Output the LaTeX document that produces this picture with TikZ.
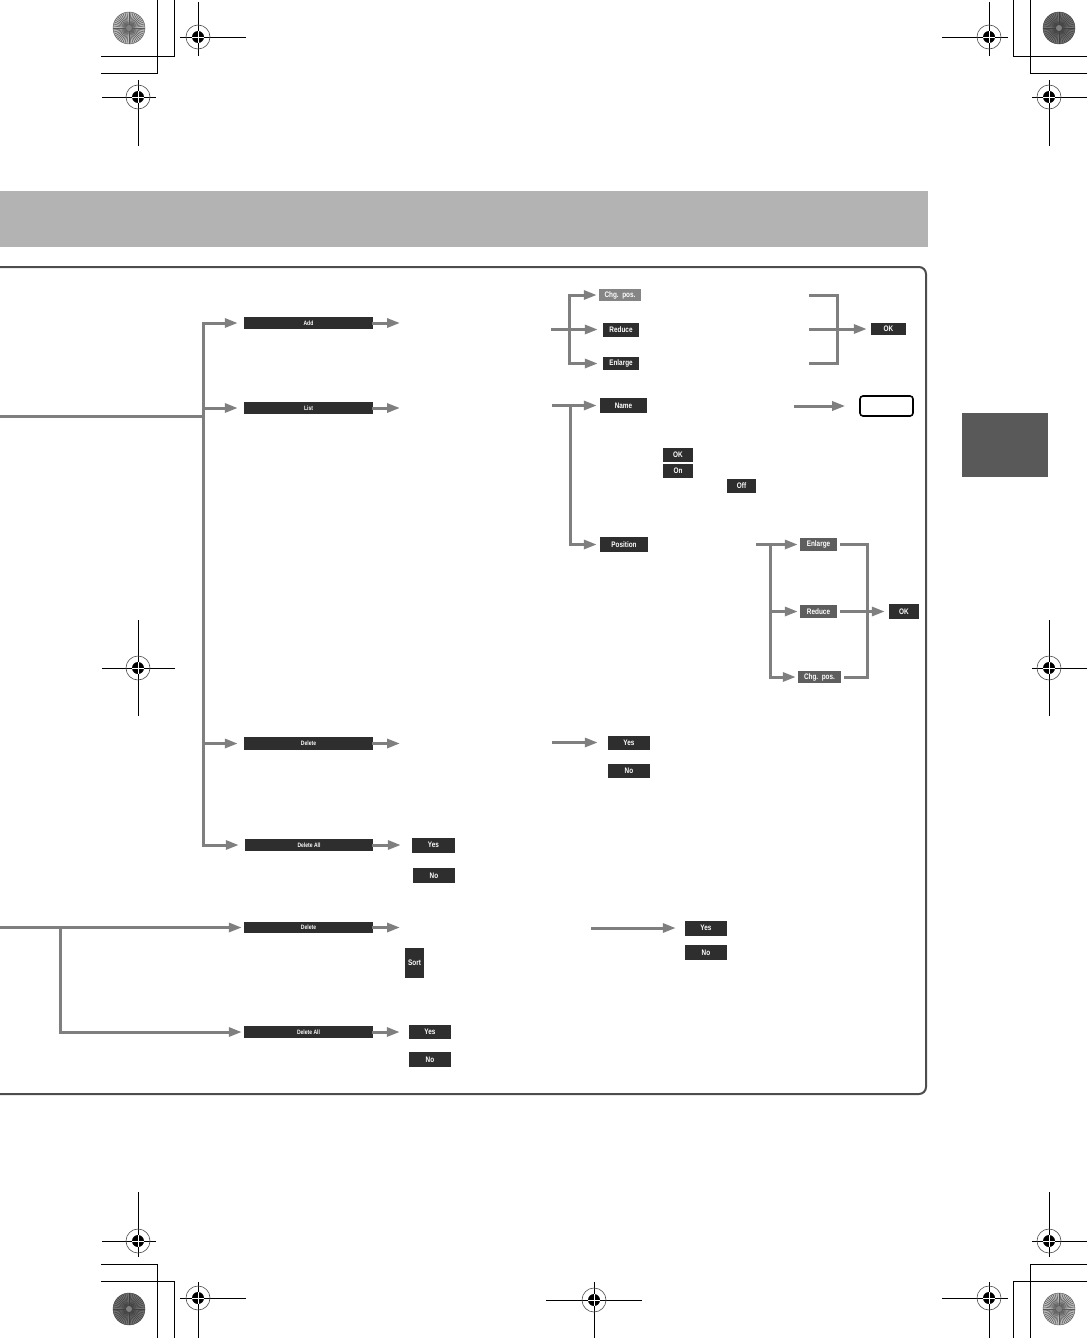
\documentclass[tikz,border=0pt]{standalone}
\usepackage{fontspec}
\newfontfamily\btnfont[FakeStretch=0.8]{Liberation Sans}
\usetikzlibrary{arrows.meta}
\definecolor{linec}{HTML}{7F7F7F}
\definecolor{btnd}{HTML}{2E2E2E}
\definecolor{btnm}{HTML}{5E5E5E}
\definecolor{btnl}{HTML}{858585}
\definecolor{headc}{HTML}{B3B3B3}
\definecolor{tabc}{HTML}{595959}
\definecolor{framec}{HTML}{4D4D4D}
\newcommand\starcirc[4]{%
  \fill[#3] (#1,#2) circle (16pt);
  \foreach \a in {0,7.5,...,352.5} \draw[#4, line width=0.5pt] (#1,#2) -- ++(\a:16pt);
  \draw[#4, line width=0.4pt] (#1,#2) circle (16pt);
  \fill[black!50] (#1,#2) circle (3pt);
}
\begin{document}
\begin{tikzpicture}[x=1pt,y=-1pt,
  ln/.style={draw=linec, line width=3pt, line cap=rect},
  arr/.style={ln, -{Triangle[length=13pt,width=9pt]}},
  btn/.style={fill=btnd, text=white, inner sep=0pt, font=\btnfont\bfseries\fontsize{8}{8}\selectfont},
  barbtn/.style={btn, minimum width=129pt, minimum height=12pt, font=\btnfont\bfseries\fontsize{6.3}{6.3}\selectfont},
  midbtn/.style={btn, fill=btnm},
  ltbtn/.style={btn, fill=btnl},
  cropl/.style={draw=black, line width=0.9pt},
  regm/.pic={\draw[black!70, line width=0.6pt] (0,0) circle (12pt);
             \fill[black] (0,0) circle (6pt);
             \draw[white, line width=0.7pt] (-6pt,0) -- (6pt,0) (0,-6pt) -- (0,6pt);}
]
\useasboundingbox (0,0) rectangle (1087,1338);

% ---------- printer marks ----------
\draw[cropl] (101,56) -- (174,56) -- (174,0);
\draw[cropl] (101,73) -- (157,73) -- (157,0);
\draw[cropl] (1087,56) -- (1013,56) -- (1013,0);
\draw[cropl] (1087,73) -- (1030,73) -- (1030,0);
\draw[cropl] (101,1264) -- (157,1264) -- (157,1338);
\draw[cropl] (101,1281) -- (174,1281) -- (174,1338);
\draw[cropl] (1087,1264) -- (1030,1264) -- (1030,1338);
\draw[cropl] (1087,1281) -- (1013,1281) -- (1013,1338);

\starcirc{129}{28}{black!25}{black!65}
\starcirc{1059}{28}{black!55}{black!75}
\starcirc{129}{1309}{black!55}{black!75}
\starcirc{1059}{1309}{black!25}{black!65}

\draw[cropl] (180,37) -- (246,37) (198,2) -- (198,56);
\pic at (198,37) {regm};
\draw[cropl] (102,97) -- (156,97) (138,80) -- (138,146);
\pic at (138,97) {regm};
\draw[cropl] (942,37) -- (1008,37) (989,2) -- (989,56);
\pic at (989,37) {regm};
\draw[cropl] (1032,97) -- (1087,97) (1049,80) -- (1049,146);
\pic at (1049,97) {regm};
\draw[cropl] (102,668) -- (175,668) (138,620) -- (138,716);
\pic at (138,668) {regm};
\draw[cropl] (1032,668) -- (1087,668) (1049,620) -- (1049,716);
\pic at (1049,668) {regm};
\draw[cropl] (102,1241) -- (156,1241) (138,1192) -- (138,1257);
\pic at (138,1241) {regm};
\draw[cropl] (1032,1241) -- (1087,1241) (1049,1192) -- (1049,1257);
\pic at (1049,1241) {regm};
\draw[cropl] (180,1298) -- (246,1298) (198,1282) -- (198,1338);
\pic at (198,1298) {regm};
\draw[cropl] (942,1298) -- (1008,1298) (989,1282) -- (989,1338);
\pic at (989,1298) {regm};
\draw[cropl] (546,1300) -- (642,1300) (594,1282) -- (594,1338);
\pic at (594,1300) {regm};

% ---------- page decorations ----------
\fill[headc] (0,191) rectangle (928,247);
\fill[tabc] (962,413) rectangle (1048,477);
\draw[framec, line width=2pt, rounded corners=7pt] (-10,267) -- (926,267) -- (926,1094) -- (-10,1094);

% ---------- buttons ----------
\node[barbtn] (add) at (308.5,323) {Add};
\node[barbtn] (list) at (308.5,408) {List};
\node[barbtn, minimum height=13pt] (del1) at (308.5,743.5) {Delete};
\node[barbtn, minimum width=128pt] (dall1) at (309,845) {Delete All};
\node[btn, minimum width=43pt, minimum height=15pt] (ya1) at (433.5,845) {Yes};
\node[btn, minimum width=42pt, minimum height=15pt] (na1) at (434,875.5) {No};
\node[btn, minimum width=42pt, minimum height=14pt] (yd1) at (629,742.5) {Yes};
\node[btn, minimum width=42pt, minimum height=14pt] (nd1) at (629,771) {No};

\node[ltbtn, minimum width=42pt, minimum height=12pt] (chg1) at (620,295) {Chg.~~pos.};
\node[btn, minimum width=36pt, minimum height=14pt] (red1) at (621,329.5) {Reduce};
\node[btn, minimum width=36pt, minimum height=13pt] (enl1) at (621,363.5) {Enlarge};
\node[btn, minimum width=35pt, minimum height=12pt] (ok1) at (888.5,329) {OK};

\node[btn, minimum width=47pt, minimum height=15pt] (name) at (623.5,405.5) {Name};
\node[draw=black, fill=white, line width=1.6pt, rounded corners=3pt, minimum width=53pt, minimum height=20pt, inner sep=0pt] (blank) at (886.5,406) {};
\node[btn, minimum width=30pt, minimum height=14pt] (okn) at (678,455) {OK};
\node[btn, minimum width=30pt, minimum height=14pt] (on) at (678,471) {On};
\node[btn, minimum width=29pt, minimum height=14pt] (off) at (741.5,486) {Off};
\node[btn, minimum width=48pt, minimum height=15pt] (pos) at (624,544.5) {Position};

\node[midbtn, minimum width=37pt, minimum height=13pt] (enl2) at (818.5,544.5) {Enlarge};
\node[midbtn, minimum width=37pt, minimum height=13pt] (red2) at (818.5,611.5) {Reduce};
\node[midbtn, minimum width=43pt, minimum height=12pt] (chg2) at (819.5,677) {Chg.~~pos.};
\node[btn, minimum width=30pt, minimum height=15pt] (ok2) at (904,611.5) {OK};

\node[barbtn, minimum height=11pt] (del2) at (308.5,927.5) {Delete};
\node[btn, minimum width=19pt, minimum height=30pt] (sort) at (414.5,963) {Sort};
\node[btn, minimum width=42pt, minimum height=15pt] (yd2) at (706,928) {Yes};
\node[btn, minimum width=42pt, minimum height=15pt] (nd2) at (706,952.5) {No};
\node[barbtn] (dall2) at (308.5,1032) {Delete All};
\node[btn, minimum width=42pt, minimum height=14pt] (ya2) at (430,1032) {Yes};
\node[btn, minimum width=42pt, minimum height=15pt] (na2) at (430,1059.5) {No};

% ---------- connector points ----------
\coordinate (tin) at (0,416);
\coordinate (tj) at (203,416);
\coordinate (t1) at (203,323);
\coordinate (t2) at (203,408);
\coordinate (t3) at (203,743.5);
\coordinate (t4) at (203,845);
\coordinate (adde) at (400,323);
\coordinate (liste) at (400,408);
\coordinate (del1e) at (400,743.5);

\coordinate (a2) at (552,329.5);
\coordinate (aj) at (569,329.5);
\coordinate (at) at (569,295);
\coordinate (ab) at (569,363.5);

\coordinate (bt) at (810,295);
\coordinate (bb) at (810,363);
\coordinate (bm) at (810,329);
\coordinate (bj) at (837,329);

\coordinate (l0) at (553,405.5);
\coordinate (lj) at (570,405.5);
\coordinate (lp) at (570,544.5);
\coordinate (n0) at (795,406);

\coordinate (p0) at (757,544.5);
\coordinate (pj) at (770,544.5);
\coordinate (pm) at (770,611.5);
\coordinate (pb) at (770,677);
\coordinate (pk) at (867,611.5);

\coordinate (dd0) at (553,742.5);

\coordinate (bs) at (0,927.5);
\coordinate (bj1) at (60,927.5);
\coordinate (bj2) at (60,1032);
\coordinate (del2e) at (400,927.5);
\coordinate (dd2) at (592,928);

% ---------- connectors ----------
\draw[ln] (tin) -- (tj);
\draw[ln] (t1) -- (t4);
\draw[arr, shorten >=6pt] (t1) -- (add);
\draw[arr, shorten >=6pt] (t2) -- (list);
\draw[arr, shorten >=6pt] (t3) -- (del1);
\draw[arr, shorten >=6pt] (t4) -- (dall1);
\draw[arr] (add) -- (adde);
\draw[arr] (list) -- (liste);
\draw[arr] (del1) -- (del1e);
\draw[arr, shorten >=11pt] (dall1) -- (ya1);

\draw[ln] (a2) -- (aj);
\draw[ln] (at) -- (ab);
\draw[arr, shorten >=2pt] (at) -- (chg1);
\draw[arr, shorten >=5pt] (aj) -- (red1);
\draw[arr, shorten >=5pt] (ab) -- (enl1);

\draw[ln] (bt) -| (bj) |- (bb);
\draw[arr, shorten >=4pt] (bm) -- (ok1);

\draw[ln] (l0) -- (lj) -- (lp);
\draw[arr, shorten >=3pt] (lj) -- (name);
\draw[arr, shorten >=3pt] (lp) -- (pos);
\draw[arr, shorten >=14pt] (n0) -- (blank);

\draw[ln] (p0) -- (pj) -- (pb);
\draw[arr, shorten >=2pt] (pj) -- (enl2);
\draw[arr, shorten >=2pt] (pm) -- (red2);
\draw[arr, shorten >=2pt] (pb) -- (chg2);
\draw[ln, shorten <=4pt, shorten >=4pt] (enl2) -| (pk) |- (chg2);
\draw[arr, shorten <=4pt, shorten >=4pt] (red2) -- (ok2);

\draw[arr, shorten >=10pt] (dd0) -- (yd1);

\draw[arr, shorten >=2pt] (bs) -- (del2);
\draw[ln] (bj1) -- (bj2);
\draw[arr, shorten >=2pt] (bj2) -- (dall2);
\draw[arr] (del2) -- (del2e);
\draw[arr, shorten >=9pt] (dd2) -- (yd2);
\draw[arr, shorten >=9pt] (dall2) -- (ya2);
\end{tikzpicture}
\end{document}
